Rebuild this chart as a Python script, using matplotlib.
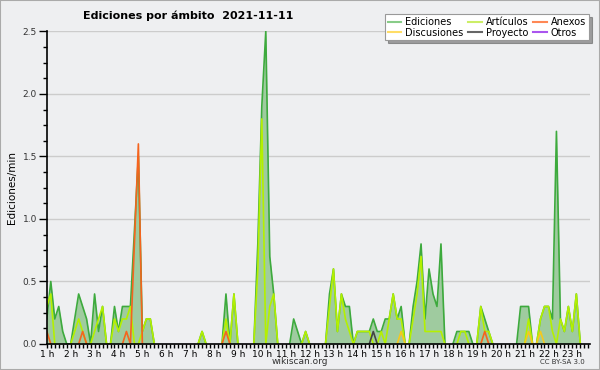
import matplotlib
matplotlib.use('Agg')

import matplotlib.pyplot as plt
from matplotlib.lines import Line2D
from matplotlib.patches import Rectangle
import numpy as np

# 10 minute bins, starting at "1 h"
ediciones = [
    0.2, 0.5, 0.2, 0.3, 0.1, 0, 0, 0.2, 0.4, 0.3,
    0.2, 0, 0.4, 0.1, 0.3, 0, 0, 0.3, 0.1, 0.3,
    0.3, 0.3, 0.9, 1.5, 0.1, 0.2, 0.2, 0, 0, 0,
    0, 0, 0, 0, 0, 0, 0, 0, 0, 0.1,
    0, 0, 0, 0, 0, 0.4, 0, 0.4, 0, 0,
    0, 0, 0, 0.8, 1.9, 2.5, 0.7, 0.4, 0, 0,
    0, 0, 0.2, 0.1, 0, 0.1, 0, 0, 0, 0,
    0, 0.4, 0.6, 0.1, 0.4, 0.3, 0.3, 0, 0.1, 0.1,
    0.1, 0.1, 0.2, 0.1, 0.1, 0.2, 0.2, 0.4, 0.2, 0.3,
    0, 0, 0.3, 0.5, 0.8, 0.2, 0.6, 0.4, 0.3, 0.8,
    0, 0, 0, 0.1, 0.1, 0.1, 0.1, 0, 0, 0.3,
    0.2, 0.1, 0, 0, 0, 0, 0, 0, 0, 0.3,
    0.3, 0.3, 0, 0, 0.2, 0.3, 0.3, 0.2, 1.7, 0.2,
    0.1, 0.3, 0.1, 0.4, 0, 0, 0,
]
articulos = [
    0.3, 0.4, 0, 0, 0, 0, 0, 0.1, 0.2, 0.1,
    0, 0, 0.1, 0.2, 0.3, 0, 0, 0.2, 0.1, 0.2,
    0.2, 0.3, 0, 0, 0.1, 0.2, 0.2, 0, 0, 0,
    0, 0, 0, 0, 0, 0, 0, 0, 0, 0.1,
    0, 0, 0, 0, 0, 0.2, 0, 0.4, 0, 0,
    0, 0, 0, 0.6, 1.8, 0, 0.3, 0.4, 0, 0,
    0, 0, 0, 0, 0, 0.1, 0, 0, 0, 0,
    0, 0.3, 0.6, 0.1, 0.4, 0.2, 0.1, 0, 0.1, 0.1,
    0.1, 0.1, 0, 0, 0.1, 0, 0.2, 0.4, 0.2, 0.2,
    0, 0, 0.2, 0.4, 0.7, 0.1, 0.1, 0.1, 0.1, 0.1,
    0, 0, 0, 0, 0.1, 0.1, 0, 0, 0, 0.3,
    0.1, 0.1, 0, 0, 0, 0, 0, 0, 0, 0,
    0, 0.2, 0, 0, 0.2, 0.3, 0.3, 0.1, 0, 0.2,
    0.1, 0.3, 0.1, 0.4, 0, 0, 0,
]
# sparse series: {bin: value}
anexos = {0: 0.1, 9: 0.1, 20: 0.1, 22: 0.8, 23: 1.6, 45: 0.1, 110: 0.1}
discusiones = {89: 0.1, 121: 0.1, 124: 0.1}
proyecto = {82: 0.1}
otros = {}

hour_labels = ['%d h' % h for h in range(1, 24)]

BG = '#eeeff1'

def to_array(d, n):
    a = np.zeros(n)
    for k, v in d.items():
        a[k] = v
    return a

def hide_flat_zeros(y):
    # drop runs of zeros so no line is drawn along the baseline
    y = np.asarray(y, dtype=float)
    prev = np.r_[0, y[:-1]]
    nxt = np.r_[y[1:], 0]
    return np.ma.masked_where((y == 0) & (prev == 0) & (nxt == 0), y)

n = len(ediciones)
x = np.arange(n) / 6.0

fig = plt.figure(figsize=(6, 3.7), dpi=100, facecolor=BG)
fig.patches.append(Rectangle((0, 0), 1, 1, transform=fig.transFigure,
                             fill=False, edgecolor='#aaaaaa', linewidth=1.5))
ax = fig.add_axes([0.078, 0.0703, 0.905, 0.845], facecolor=BG)

ax.fill_between(x, 0, ediciones, color='#9fcb9f', linewidth=0, zorder=2)
series = [
    (ediciones, '#3daa3d'),
    (articulos, '#b4f000'),
    (to_array(anexos, n), '#f5641e'),
    (to_array(discusiones, n), '#f5c81e'),
    (to_array(proyecto, n), '#444444'),
    (to_array(otros, n), '#9933ee'),
]
for y, c in series:
    ax.plot(x, hide_flat_zeros(y), color=c, linewidth=1.2, zorder=3)

ax.set_xlim(0, 22.73)
ax.set_ylim(0, 2.5)
ax.set_xticks(np.arange(23))
ax.set_xticklabels(hour_labels, fontsize=6.5)
ax.set_xticks(np.arange(0, 22.73, 1 / 6.0), minor=True)
ax.set_yticks(np.arange(0, 2.51, 0.5))
ax.set_yticklabels(['%.1f' % v for v in np.arange(0, 2.51, 0.5)], fontsize=6.5, color='#333333')
ax.set_yticks(np.arange(0, 2.51, 0.125), minor=True)
ax.tick_params(axis='x', which='both', direction='out', length=3, width=1, pad=1)
ax.tick_params(axis='y', which='major', direction='out', length=6, width=1, pad=1)
ax.tick_params(axis='y', which='minor', direction='out', length=3, width=1)
ax.yaxis.grid(True, color='#cccccc', linewidth=1, zorder=0)
ax.set_axisbelow(True)
for s in ['top', 'right']:
    ax.spines[s].set_visible(False)
for s in ['left', 'bottom']:
    ax.spines[s].set_linewidth(1.2)
    ax.spines[s].set_zorder(5)
ax.set_ylabel('Ediciones/min', fontsize=7.5, labelpad=4)

fig.text(0.313, 0.957, 'Ediciones por ámbito  2021-11-11', ha='center', va='center',
         fontsize=8, fontweight='bold')
fig.text(0.5, 0.022, 'wikiscan.org', ha='center', va='center', fontsize=6.5, color='#333333')
fig.text(0.975, 0.022, 'CC BY-SA 3.0', ha='right', va='center', fontsize=5, color='#333333')

handles = [
    Line2D([], [], color='#88cc88'), Line2D([], [], color='#ffdd66'),
    Line2D([], [], color='#ccee66'), Line2D([], [], color='#666666'),
    Line2D([], [], color='#ff8855'), Line2D([], [], color='#aa55ee'),
]
names = ['Ediciones', 'Discusiones', 'Artículos', 'Proyecto', 'Anexos', 'Otros']
leg = fig.legend(handles, names, ncol=3, loc='upper right', bbox_to_anchor=(0.99, 0.975),
                 fontsize=7, frameon=True, fancybox=False, shadow=True,
                 handlelength=1.4, handletextpad=0.4, columnspacing=0.5,
                 labelspacing=0.05, borderpad=0.3)
leg.get_frame().set_edgecolor('#999999')
leg.get_frame().set_linewidth(0.8)

plt.savefig('out.png', dpi=100, facecolor=BG)
